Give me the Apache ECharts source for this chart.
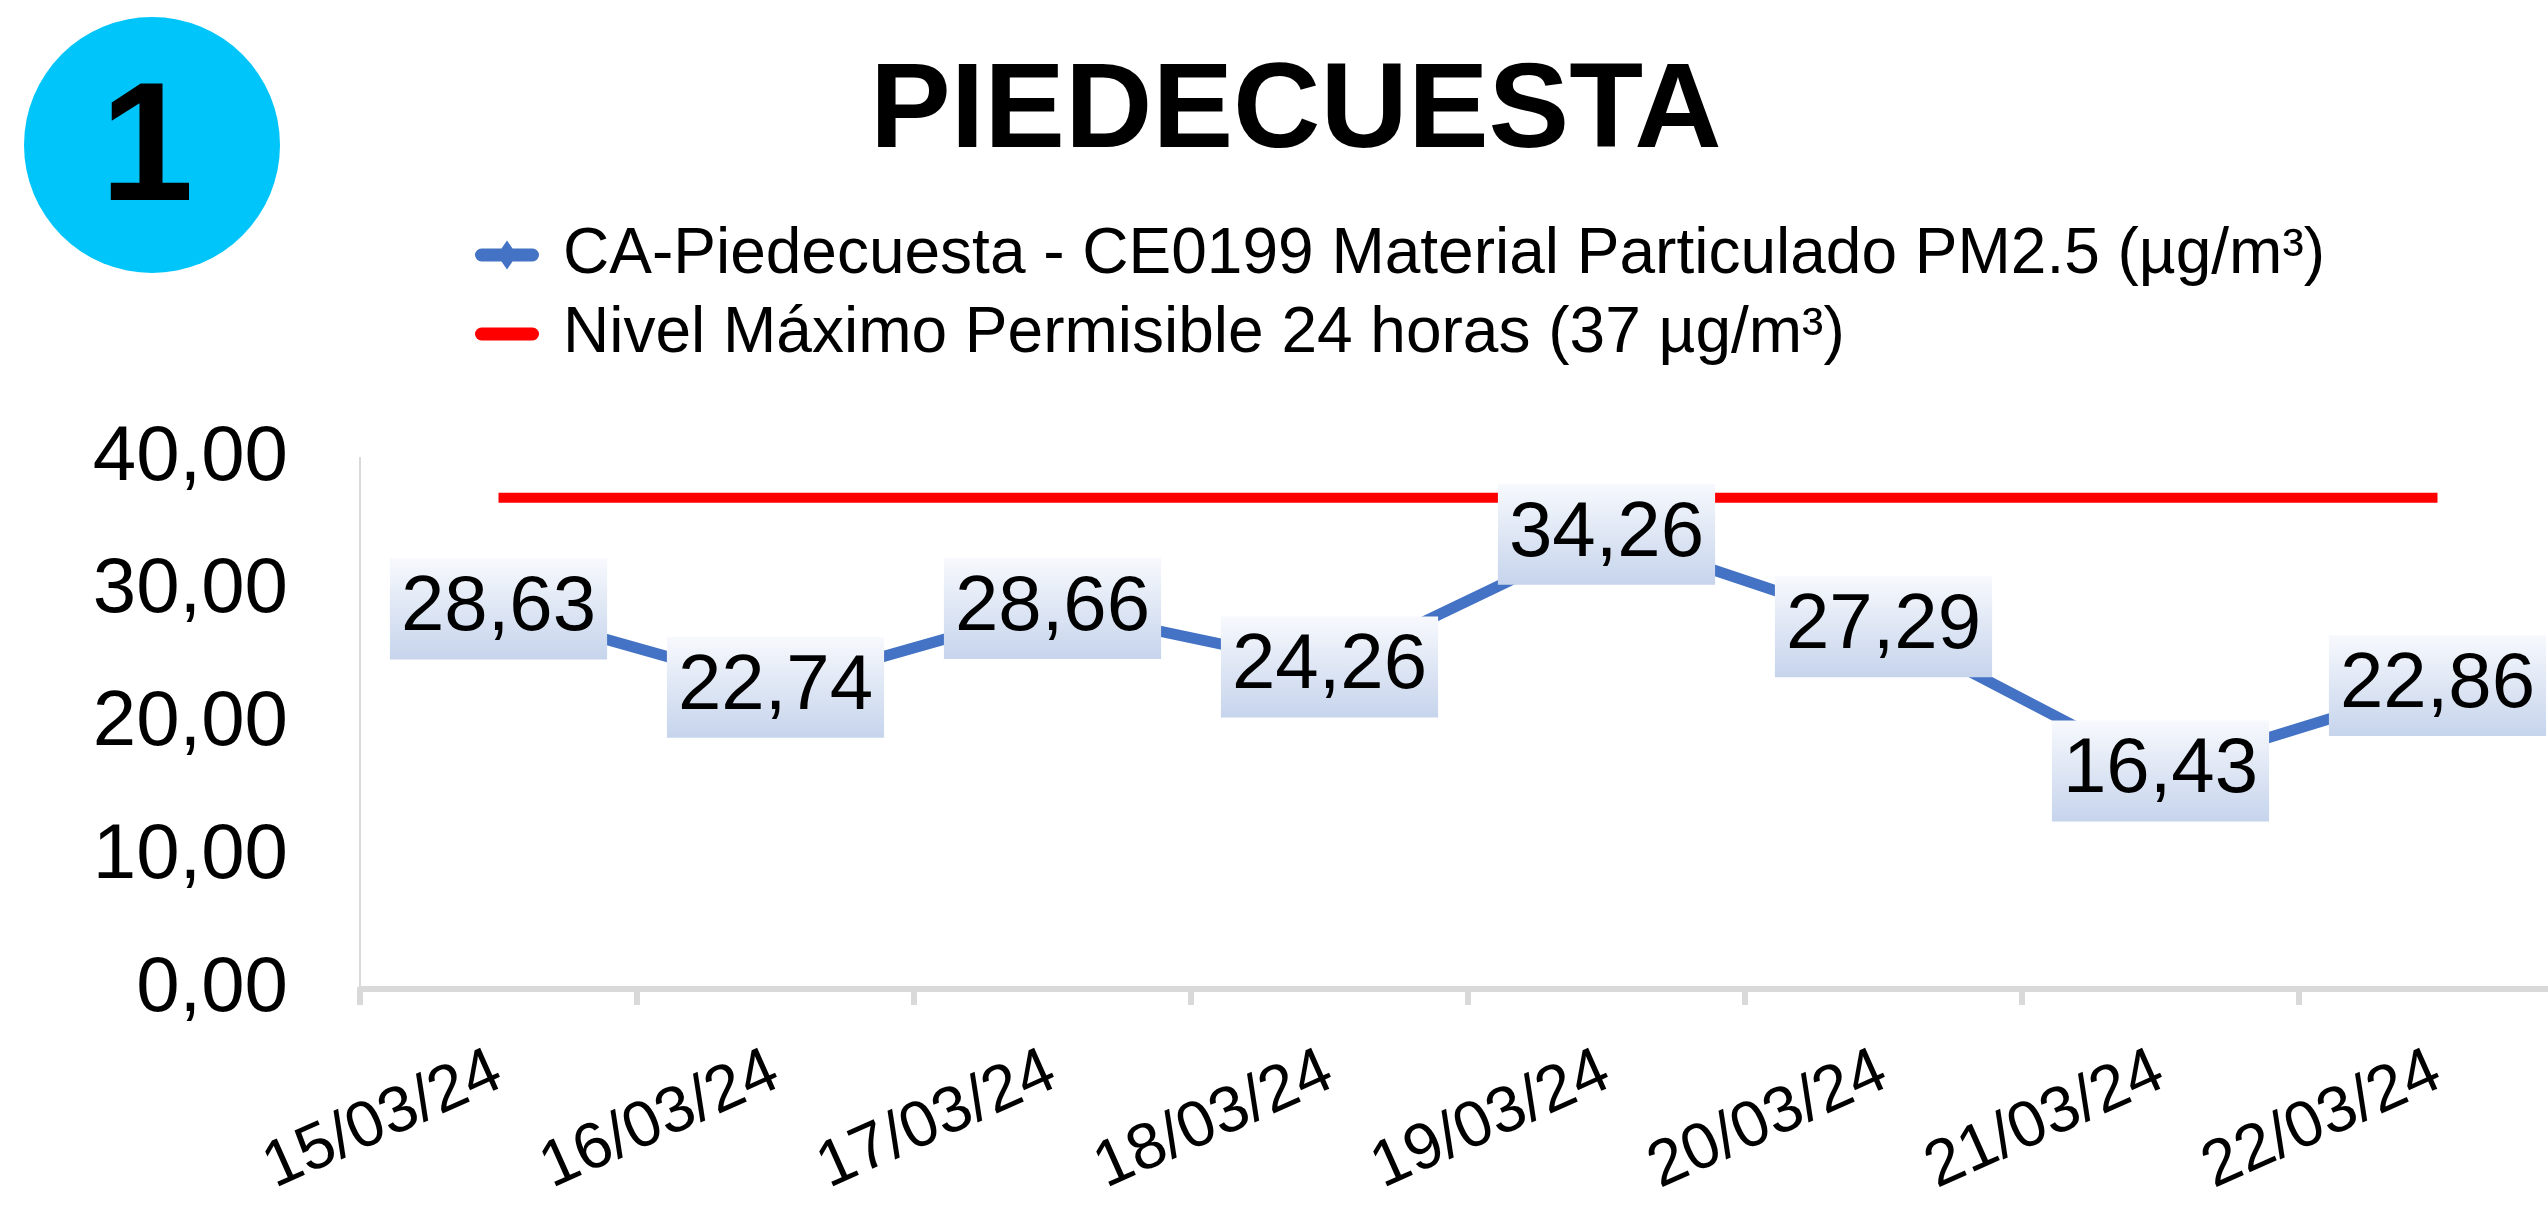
<!DOCTYPE html>
<html>
<head>
<meta charset="utf-8">
<script src="https://cdn.jsdelivr.net/npm/echarts@6/dist/echarts.min.js"></script>
<style>
html,body{margin:0;padding:0;background:#fff;}
#chart{width:2548px;height:1206px;}
</style>
</head>
<body>
<div id="chart"></div>
<script>
const titleText = 'PIEDECUESTA';
const badgeText = '1';
const categories = ['15/03/24','16/03/24','17/03/24','18/03/24','19/03/24','20/03/24','21/03/24','22/03/24'];
const pm25Name = 'CA-Piedecuesta - CE0199 Material Particulado PM2.5 (µg/m³)';
const pm25Values = [28.63, 22.74, 28.66, 24.26, 34.26, 27.29, 16.43, 22.86];
const limitName = 'Nivel Máximo Permisible 24 horas (37 µg/m³)';
const limitValues = [37, 37, 37, 37, 37, 37, 37, 37];
const yTicks = { min: 0, max: 40, interval: 10 };

const FONT = '"Liberation Sans", Arial, sans-serif';
const fmt = v => Number(v).toFixed(2).replace('.', ',');

const chart = echarts.init(document.getElementById('chart'), null, {renderer: 'canvas'});

const blueIcon = 'path://M6.5,8 H57.5 A6.5,6.5 0 0 1 57.5,21 H6.5 A6.5,6.5 0 0 1 6.5,8 Z M32,0 L42,14.5 L32,29 L22,14.5 Z';
const redIcon = 'path://M6.5,0 H57.5 A6.5,6.5 0 0 1 57.5,13 H6.5 A6.5,6.5 0 0 1 6.5,0 Z';

chart.setOption({
  animation: false,
  backgroundColor: '#ffffff',
  title: {
    text: titleText,
    left: 870,
    top: 53,
    padding: 0,
    textStyle: { fontFamily: FONT, fontSize: 121, fontWeight: 'bold', color: '#000', lineHeight: 121 }
  },
  graphic: [
    { type: 'circle', shape: { cx: 152, cy: 145, r: 128 }, style: { fill: '#00c5fa' }, z: 1 },
    { type: 'text', x: 147, y: 154, z: 2,
      style: { text: badgeText, fontFamily: FONT, fontSize: 168, fontWeight: 'bold', fill: '#000', align: 'center', verticalAlign: 'middle' } }
  ],
  legend: {
    orient: 'vertical',
    left: 475,
    top: 223,
    padding: 0,
    itemWidth: 64,
    itemHeight: 29,
    itemGap: 15,
    textStyle: { fontFamily: FONT, fontSize: 64, color: '#000', lineHeight: 64, padding: [0, 0, 0, 19] },
    data: [
      { name: pm25Name, icon: blueIcon },
      { name: limitName, icon: redIcon }
    ]
  },
  grid: { left: 360, width: 2216, top: 458, height: 531, containLabel: false, outerBoundsMode: 'none' },
  xAxis: {
    type: 'category',
    data: categories,
    boundaryGap: true,
    axisLine: { show: true, lineStyle: { color: '#d9d9d9', width: 6 } },
    axisTick: { show: true, length: 16, lineStyle: { color: '#d9d9d9', width: 6 } },
    axisLabel: { interval: 0, rotate: 24, margin: 80, fontFamily: FONT, fontSize: 65, color: '#000' },
    splitLine: { show: false }
  },
  yAxis: {
    type: 'value',
    min: yTicks.min,
    max: yTicks.max,
    interval: yTicks.interval,
    axisLine: { show: true, lineStyle: { color: '#d9d9d9', width: 2 } },
    axisTick: { show: false },
    splitLine: { show: false },
    axisLabel: { margin: 72, fontFamily: FONT, fontSize: 78, color: '#000', formatter: fmt }
  },
  series: [
    {
      name: pm25Name,
      type: 'line',
      data: pm25Values,
      symbol: 'diamond',
      symbolSize: [20, 29],
      showSymbol: true,
      itemStyle: { color: '#4472c4' },
      lineStyle: { color: '#4472c4', width: 11 },
      z: 3,
      label: {
        show: true,
        position: 'inside',
        formatter: p => fmt(p.value),
        fontFamily: FONT,
        fontSize: 78,
        lineHeight: 89,
        color: '#000',
        padding: [6, 11],
        backgroundColor: {
          type: 'linear', x: 0, y: 0, x2: 0, y2: 1,
          colorStops: [ { offset: 0, color: '#f7f9fd' }, { offset: 1, color: '#c6d4ec' } ]
        }
      }
    },
    {
      name: limitName,
      type: 'line',
      data: limitValues,
      symbol: 'none',
      itemStyle: { color: '#ff0000' },
      lineStyle: { color: '#ff0000', width: 10 },
      z: 2
    }
  ]
});
</script>
</body>
</html>
